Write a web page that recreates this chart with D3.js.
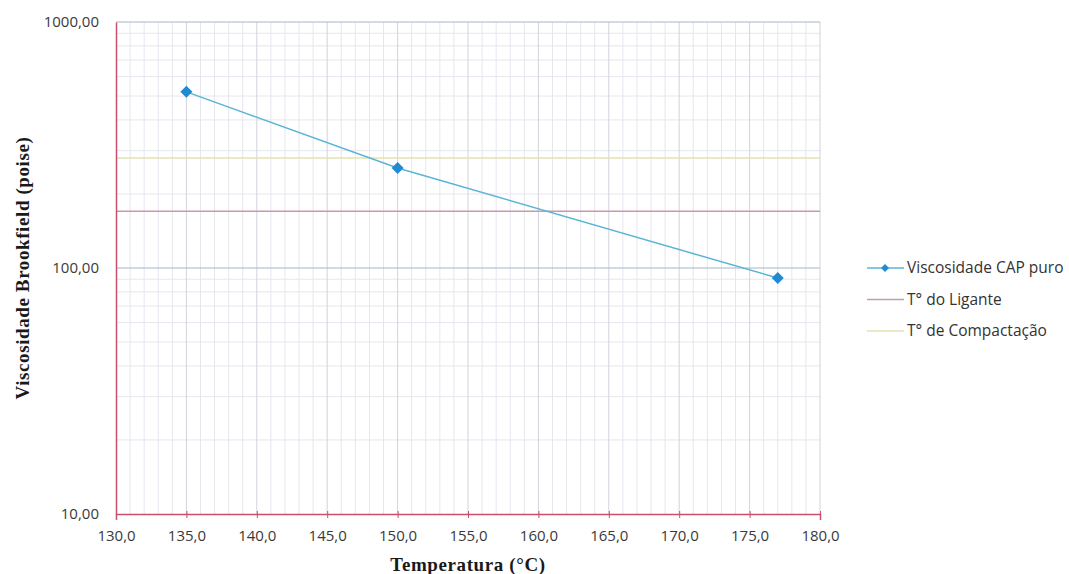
<!DOCTYPE html>
<html>
<head>
<meta charset="utf-8">
<script src="https://cdn.jsdelivr.net/npm/d3@7"></script>
<style>
  body { margin: 0; background: #fff; }
  svg { display: block; }
</style>
</head>
<body>
<div id="chart"></div>
<script>
// data
let temps = [135, 150, 177];
let viscosity = [520, 255, 91];
let ligante = 170;
let compactacao = 280;
let xTicks = [130, 135, 140, 145, 150, 155, 160, 165, 170, 175, 180];
let yTicks = [10, 100, 1000];
let seriesNames = ['Viscosidade CAP puro', 'T° do Ligante', 'T° de Compactação'];

let W = 1069, H = 574;
let margin = {top: 22, right: 249, bottom: 60, left: 116};
let width = W - margin.left - margin.right;
let height = H - margin.top - margin.bottom;

let fmt = d3.format('.2f');

let x = d3.scaleLinear().domain([130, 180]).range([0, width]);
let y = d3.scaleLog().domain([10, 1000]).range([height, 0]);

let svg = d3.select('#chart')
  .append('svg')
    .attr('width', W)
    .attr('height', H);

let g = svg.append('g')
  .attr('transform', `translate(${margin.left},${margin.top})`);

// minor vertical grid every 1 degree
g.append('g')
  .selectAll('line')
  .data(d3.range(131, 180).filter(v => v % 5 !== 0))
  .join('line')
    .attr('x1', d => x(d)).attr('x2', d => x(d))
    .attr('y1', 0).attr('y2', height)
    .style('stroke', '#e6e6ee')
    .style('stroke-width', 1);

// minor horizontal grid
let minorY = [];
[10, 100].forEach(b => {
  for (let k = 2; k <= 9; k++) minorY.push(b * k);
});
g.append('g')
  .selectAll('line')
  .data(minorY)
  .join('line')
    .attr('x1', 0).attr('x2', width)
    .attr('y1', d => y(d)).attr('y2', d => y(d))
    .style('stroke', '#e6e6ee')
    .style('stroke-width', 1);

// major vertical grid
g.append('g')
  .selectAll('line')
  .data(xTicks.slice(1))
  .join('line')
    .attr('x1', d => x(d)).attr('x2', d => x(d))
    .attr('y1', 0).attr('y2', height)
    .style('stroke', '#d2d3dc')
    .style('stroke-width', 1);

// major horizontal grid
g.append('g')
  .selectAll('line')
  .data(yTicks.slice(1))
  .join('line')
    .attr('x1', 0).attr('x2', width)
    .attr('y1', d => y(d)).attr('y2', d => y(d))
    .style('stroke', '#a8b4c8')
    .style('stroke-width', 1);

// reference lines
g.append('line')
  .attr('x1', 0).attr('x2', width)
  .attr('y1', y(compactacao)).attr('y2', y(compactacao))
  .style('stroke', '#e4e0b0')
  .style('stroke-width', 1.5);

g.append('line')
  .attr('x1', 0).attr('x2', width)
  .attr('y1', y(ligante)).attr('y2', y(ligante))
  .style('stroke', '#c89aa8')
  .style('stroke-width', 1.5);

// axes
let xAxis = d3.axisBottom(x).tickValues(xTicks).tickSize(6).tickFormat(d => d.toFixed(1).replace('.', ','));
let yAxis = d3.axisLeft(y).tickValues(yTicks).tickSize(0).tickPadding(17).tickFormat(d => fmt(d).replace('.', ','));

let xAxisSvg = g.append('g')
  .attr('transform', `translate(0,${height})`)
  .call(xAxis);
xAxisSvg.select('.domain').style('stroke', '#c8506e').style('stroke-width', 1.5);
xAxisSvg.selectAll('.tick line').style('stroke', '#c8506e').attr('y1', -3).attr('y2', 4);
xAxisSvg.selectAll('.tick text')
  .attr('y', 12)
  .attr('dy', '1em')
  .style('font', '15px "Open Sans", sans-serif')
  .style('fill', '#3a3a3a');

let yAxisSvg = g.append('g').call(yAxis);
yAxisSvg.select('.domain').style('stroke', '#c8506e').style('stroke-width', 1.5);
yAxisSvg.selectAll('.tick text')
  .style('font', '15px "Open Sans", sans-serif')
  .style('fill', '#3a3a3a');

// series
let line = d3.line()
  .x((d, i) => x(temps[i]))
  .y(d => y(d));

g.append('path')
  .datum(viscosity)
  .attr('d', line)
  .style('fill', 'none')
  .style('stroke', '#5ab4d6')
  .style('stroke-width', 1.5);

let diamond = d3.symbol().type(d3.symbolSquare).size(72);
g.selectAll('.pt')
  .data(viscosity)
  .join('path')
    .attr('class', 'pt')
    .attr('d', diamond)
    .attr('transform', (d, i) => `translate(${x(temps[i])},${y(d)}) rotate(45)`)
    .style('fill', '#1e8bd2');

// axis titles
svg.append('text')
  .attr('x', 468)
  .attr('y', 571)
  .attr('text-anchor', 'middle')
  .style('font', 'bold 19px "Liberation Serif", serif')
  .style('letter-spacing', '0.6px')
  .style('fill', '#1a1a1a')
  .text('Temperatura (°C)');

svg.append('text')
  .attr('transform', `translate(29,268) rotate(-90)`)
  .attr('text-anchor', 'middle')
  .style('font', 'bold 19px "Liberation Serif", serif')
  .style('letter-spacing', '0.6px')
  .style('fill', '#1a1a1a')
  .text('Viscosidade Brookfield (poise)');

// legend
let legendColors = ['#5ab4d6', '#c89aa8', '#e4e0b0'];
let legend = svg.append('g').attr('transform', 'translate(867,268)');
seriesNames.forEach((name, i) => {
  let row = legend.append('g').attr('transform', `translate(0,${i * 31.5})`);
  row.append('line')
    .attr('x1', 0).attr('x2', 37)
    .style('stroke', legendColors[i])
    .style('stroke-width', 1.5);
  if (i === 0) {
    row.append('path')
      .attr('d', d3.symbol().type(d3.symbolSquare).size(32))
      .attr('transform', 'translate(18,0) rotate(45)')
      .style('fill', '#1e8bd2');
  }
  row.append('text')
    .attr('x', 40)
    .attr('dy', '0.35em')
    .style('font', '15.5px "Open Sans", sans-serif')
    .style('fill', '#333')
    .text(name);
});
</script>
</body>
</html>
